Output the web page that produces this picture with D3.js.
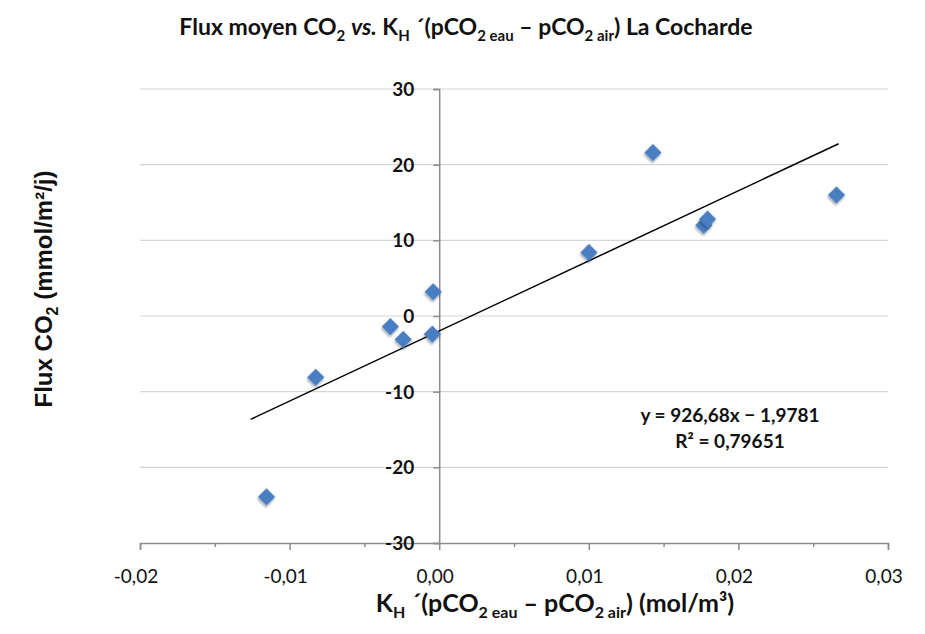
<!DOCTYPE html>
<html><head><meta charset="utf-8">
<script src="https://cdn.jsdelivr.net/npm/d3@7"></script>
<style>body{margin:0;background:#fff}</style>
</head><body>
<svg id="c" width="925" height="634"></svg>
<script>
// ---- data ----
const xValues = [-0.01154, -0.00825, -0.00326, -0.0024, -0.00046, -0.0004, 0.01001, 0.01429, 0.01769, 0.01794, 0.02656];
const yValues = [-23.9, -8.1, -1.4, -3.1, -2.4, 3.2, 8.4, 21.6, 12.0, 12.8, 16.0];
const xTicks = [-0.02, -0.01, 0, 0.01, 0.02, 0.03];
const xMinorTicks = [-0.015, -0.005, 0.005, 0.015, 0.025];
const yTicks = [-30, -20, -10, 0, 10, 20, 30];
const trendSlope = 926.68;
const trendIntercept = -1.9781;
const trendRange = [-0.0126, 0.0267];
const equationLines = ["y = 926,68x − 1,9781", "R² = 0,79651"];

const svg = d3.select("#c");
const x = d3.scaleLinear().domain([-0.02, 0.03]).range([140, 888]);
const y = d3.scaleLinear().domain([-30, 30]).range([543, 89]);
const axisColor = "#8c8c8c";
const fmtX = d => d3.format(".2f")(d).replace(".", ",").replace("−", "-");

svg.append("defs").append("filter").attr("id", "sh").attr("x", "-50%").attr("y", "-50%").attr("width", "200%").attr("height", "200%")
  .append("feDropShadow").attr("dx", 1).attr("dy", 2).attr("stdDeviation", 1.3).attr("flood-color", "#000").attr("flood-opacity", 0.35);

// gridlines
svg.append("g").selectAll("line").data(yTicks.filter(d => d > -30)).join("line")
  .attr("x1", x.range()[0]).attr("x2", x.range()[1])
  .attr("y1", d => y(d)).attr("y2", d => y(d))
  .attr("stroke", "#d6d6d6").attr("stroke-width", 1.2);

// x axis (at y = -30)
const gx = svg.append("g").attr("transform", `translate(0,${y(-30)})`)
  .call(d3.axisBottom(x).tickValues(xTicks).tickSize(7).tickFormat(""));
gx.select(".domain").attr("stroke", axisColor).attr("stroke-width", 1.5);
gx.selectAll(".tick line").attr("stroke", axisColor).attr("stroke-width", 1.5);
const gxm = svg.append("g").attr("transform", `translate(0,${y(-30)})`)
  .call(d3.axisBottom(x).tickValues(xMinorTicks).tickSize(4).tickFormat(""));
gxm.select(".domain").remove();
gxm.selectAll(".tick line").attr("stroke", axisColor).attr("stroke-width", 1.5);
svg.append("g").selectAll("text").data(xTicks).join("text")
  .attr("x", d => x(d) - 4).attr("y", 583)
  .attr("text-anchor", "middle")
  .attr("font-family", "Lato, sans-serif").attr("font-size", 19).attr("fill", "#111")
  .text(fmtX);

// y axis (at x = 0)
const gy = svg.append("g").attr("transform", `translate(${x(0)},0)`)
  .call(d3.axisLeft(y).tickValues(yTicks).tickSize(6).tickFormat(""));
gy.select(".domain").attr("stroke", axisColor).attr("stroke-width", 1.5);
gy.selectAll(".tick line").attr("stroke", axisColor).attr("stroke-width", 1.5);
svg.append("g").selectAll("text").data(yTicks).join("text")
  .attr("x", x(0) - 25).attr("y", d => y(d)).attr("dy", "0.36em")
  .attr("text-anchor", "end")
  .attr("font-family", "Lato, sans-serif").attr("font-weight", "bold").attr("font-size", 19).attr("fill", "#111")
  .text(d => String(d));

// trend line
svg.append("line")
  .attr("x1", x(trendRange[0])).attr("y1", y(trendSlope * trendRange[0] + trendIntercept))
  .attr("x2", x(trendRange[1])).attr("y2", y(trendSlope * trendRange[1] + trendIntercept))
  .attr("stroke", "#000").attr("stroke-width", 1.5);

// points
const pts = xValues.map((v, i) => [v, yValues[i]]);
svg.append("g").selectAll("path").data(pts).join("path")
  .attr("d", d3.symbol(d3.symbolSquare, 150))
  .attr("transform", d => `translate(${x(d[0])},${y(d[1])}) rotate(45)`)
  .attr("fill", "#4a7ec2").attr("filter", "url(#sh)");

// equation
svg.append("g").selectAll("text").data(equationLines).join("text")
  .attr("x", 730).attr("y", (d, i) => 422 + i * 26)
  .attr("text-anchor", "middle")
  .attr("font-family", "Lato, sans-serif").attr("font-weight", "bold").attr("font-size", 19).attr("fill", "#111")
  .text(d => d);

// title
const t = svg.append("text").attr("x", 466).attr("y", 35).attr("text-anchor", "middle")
  .attr("font-family", "Lato, sans-serif").attr("font-weight", "bold").attr("font-size", 23).attr("fill", "#111");
t.append("tspan").text("Flux moyen CO");
t.append("tspan").attr("font-size", 15).attr("dy", 6).text("2");
t.append("tspan").attr("dy", -6).text(" ");
t.append("tspan").attr("font-style", "italic").text("vs.");
t.append("tspan").text(" K");
t.append("tspan").attr("font-size", 15).attr("dy", 6).text("H");
t.append("tspan").attr("dy", -6).text(" ´(pCO");
t.append("tspan").attr("font-size", 15).attr("dy", 6).text("2 eau");
t.append("tspan").attr("dy", -6).text(" – pCO");
t.append("tspan").attr("font-size", 15).attr("dy", 6).text("2 air");
t.append("tspan").attr("dy", -6).text(") La Cocharde");

// x axis title
const xt = svg.append("text").attr("x", 555).attr("y", 612).attr("text-anchor", "middle")
  .attr("font-family", "Lato, sans-serif").attr("font-weight", "bold").attr("font-size", 25).attr("fill", "#111");
xt.append("tspan").text("K");
xt.append("tspan").attr("font-size", 16).attr("dy", 6).text("H");
xt.append("tspan").attr("dy", -6).text(" ´(pCO");
xt.append("tspan").attr("font-size", 16).attr("dy", 6).text("2 eau");
xt.append("tspan").attr("dy", -6).text(" – pCO");
xt.append("tspan").attr("font-size", 16).attr("dy", 6).text("2 air");
xt.append("tspan").attr("dy", -6).text(") (mol/m³)");

// y axis title
const yt = svg.append("text").attr("transform", "translate(52,289) rotate(-90)").attr("text-anchor", "middle")
  .attr("font-family", "'Liberation Sans', Arial, sans-serif").attr("font-weight", "bold").attr("font-size", 24).attr("fill", "#111");
yt.append("tspan").text("Flux CO");
yt.append("tspan").attr("font-size", 16).attr("dy", 6).text("2");
yt.append("tspan").attr("dy", -6).text(" (mmol/m²/j)");
</script>
</body></html>
